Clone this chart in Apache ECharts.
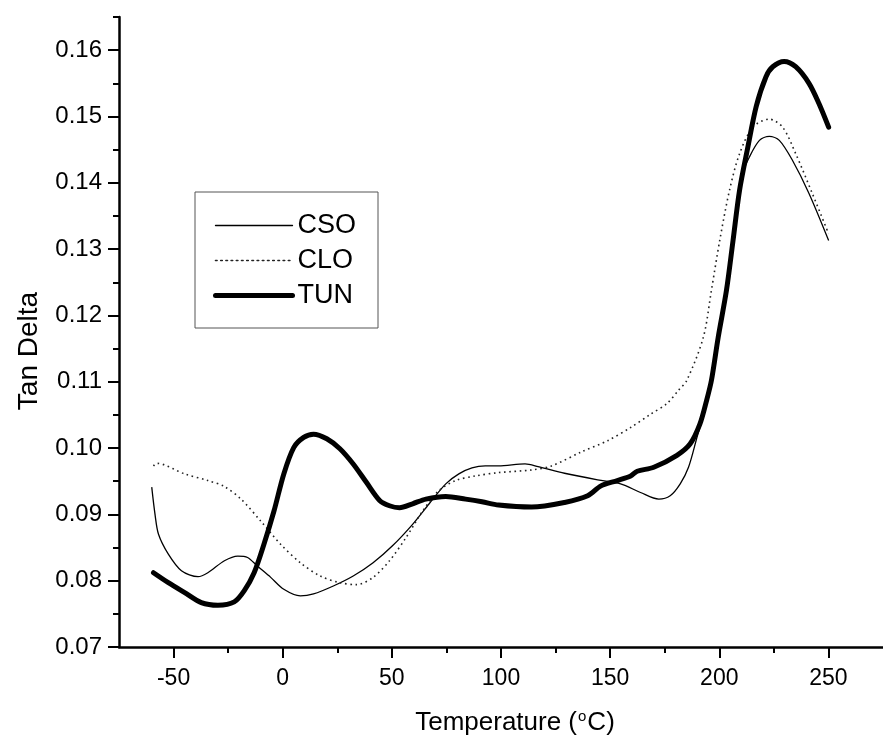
<!DOCTYPE html>
<html>
<head>
<meta charset="utf-8">
<script src="https://cdn.jsdelivr.net/npm/echarts@6/dist/echarts.min.js"></script>
<style>html,body{margin:0;padding:0;background:#fff}#c{width:883px;height:744px}</style>
</head>
<body>
<div id="c"></div>
<script>
const xMajorTicks = [-50, 0, 50, 100, 150, 200, 250];
const xMinorTicks = [-25, 25, 75, 125, 175, 225];
const yMajorTicks = [0.07, 0.08, 0.09, 0.10, 0.11, 0.12, 0.13, 0.14, 0.15, 0.16];
const yMinorTicks = [0.075, 0.085, 0.095, 0.105, 0.115, 0.125, 0.135, 0.145, 0.155, 0.165];

const csoT = [-60.0, -58.5, -56.9, -52.4, -46.4, -38.8, -34.3, -26.7, -20.6, -16.1, -11.6, -5.5, 0.5, 8.1, 14.1, 23.2, 32.3, 41.4, 50.4, 59.5, 67.1, 74.7, 80.7, 86.7, 92.8, 98.9, 111.0, 117.0, 129.1, 144.3, 154.8, 163.9, 172.3, 177.5, 182.1, 185.9, 189.6, 194.2, 199.5, 203.3, 206.3, 210.8, 213.8, 218.4, 222.9, 227.5, 233.5, 241.1, 250.1];
const csoV = [0.0941, 0.0900, 0.0870, 0.0840, 0.0815, 0.0806, 0.0812, 0.0830, 0.0837, 0.0835, 0.0822, 0.0805, 0.0787, 0.0777, 0.0780, 0.0792, 0.0807, 0.0827, 0.0853, 0.0885, 0.0916, 0.0946, 0.0961, 0.0970, 0.0973, 0.0973, 0.0976, 0.0972, 0.0962, 0.0952, 0.0946, 0.0933, 0.0923, 0.0928, 0.0946, 0.0971, 0.1014, 0.1070, 0.1160, 0.1235, 0.1305, 0.1414, 0.1439, 0.1464, 0.1470, 0.1464, 0.1434, 0.1384, 0.1313];

const cloT = [-59.2, -57.7, -44.9, -34.3, -26.7, -19.1, -10.1, -1.0, 8.1, 17.2, 26.2, 33.8, 41.4, 48.9, 56.5, 64.1, 71.6, 79.2, 88.3, 98.9, 114.0, 123.1, 136.7, 148.8, 159.4, 168.5, 176.0, 181.3, 185.1, 192.7, 196.4, 200.2, 204.7, 209.3, 215.4, 222.9, 229.0, 235.0, 242.6, 250.1];
const cloV = [0.0973, 0.0977, 0.0961, 0.0951, 0.0942, 0.0923, 0.0890, 0.0855, 0.0827, 0.0807, 0.0797, 0.0794, 0.0805, 0.0830, 0.0865, 0.0905, 0.0936, 0.0951, 0.0958, 0.0963, 0.0967, 0.0973, 0.0994, 0.1011, 0.1031, 0.1051, 0.1067, 0.1087, 0.1102, 0.1167, 0.1238, 0.1313, 0.1389, 0.1444, 0.1484, 0.1496, 0.1484, 0.1444, 0.1384, 0.1323];

const tunT = [-59.2, -52.4, -44.9, -37.3, -29.7, -22.2, -17.6, -13.1, -8.6, -4.0, 0.5, 5.1, 9.6, 14.1, 20.2, 26.2, 32.3, 38.4, 44.4, 48.9, 53.5, 59.5, 65.6, 74.7, 83.8, 91.3, 98.9, 114.0, 129.1, 139.7, 145.8, 153.3, 159.4, 162.4, 170.0, 180.6, 186.6, 191.1, 194.2, 196.4, 199.5, 203.3, 206.3, 209.3, 213.1, 216.9, 221.4, 224.5, 229.7, 235.0, 241.1, 245.6, 250.1];
const tunV = [0.0812, 0.0797, 0.0782, 0.0767, 0.0763, 0.0768, 0.0785, 0.0812, 0.0855, 0.0905, 0.0961, 0.1001, 0.1016, 0.1021, 0.1014, 0.0999, 0.0976, 0.0948, 0.0921, 0.0913, 0.0910, 0.0916, 0.0923, 0.0927, 0.0923, 0.0919, 0.0914, 0.0911, 0.0918, 0.0928, 0.0943, 0.0951, 0.0958, 0.0965, 0.0971, 0.0989, 0.1006, 0.1036, 0.1072, 0.1102, 0.1167, 0.1238, 0.1313, 0.1389, 0.1454, 0.1515, 0.1560, 0.1575, 0.1583, 0.1575, 0.1550, 0.1520, 0.1484];

const zip = (a, b) => a.map((v, i) => [v, b[i]]);
const FONT = 'Liberation Sans';

const chart = echarts.init(document.getElementById('c'), null, {renderer: 'canvas'});
chart.setOption({
  animation: false,
  backgroundColor: '#fff',
  grid: {left: 119, right: -5, top: 17, bottom: 97, containLabel: false},
  legend: {
    orient: 'vertical',
    left: 195, top: 192,
    padding: [20, 22, 19, 18],
    itemGap: 8,
    itemWidth: 77, itemHeight: 2,
    borderColor: '#555', borderWidth: 1,
    itemStyle: {opacity: 0},
    lineStyle: {width: 'inherit', type: 'inherit', cap: 'round'},
    textStyle: {fontFamily: FONT, fontSize: 27, color: '#000', lineHeight: 27},
    data: ['CSO', 'CLO', 'TUN']
  },
  xAxis: [{
    type: 'value', min: -75, max: 275, interval: 25,
    name: 'Temperature ({sup|o}C)',
    nameLocation: 'middle', nameGap: 62,
    nameTextStyle: {fontFamily: FONT, fontSize: 26, color: '#000', padding: [0, 0, 0, 28],
      rich: {sup: {fontFamily: FONT, fontSize: 15, color: '#000', verticalAlign: 'top', padding: [0, 1, 12, 1]}}},
    splitLine: {show: false},
    axisLine: {show: true, onZero: false, lineStyle: {color: '#000', width: 2.5}},
    axisTick: {show: true, inside: false, length: 11, customValues: xMajorTicks, lineStyle: {color: '#000', width: 2}},
    axisLabel: {show: true, margin: 20, customValues: xMajorTicks, fontFamily: FONT, fontSize: 23, color: '#000'}
  }, {
    type: 'value', min: -75, max: 275, interval: 25,
    position: 'bottom',
    splitLine: {show: false},
    axisLine: {show: false, onZero: false},
    axisTick: {show: true, inside: false, length: 6, customValues: xMinorTicks, lineStyle: {color: '#000', width: 2}},
    axisLabel: {show: false}
  }],
  yAxis: [{
    type: 'value', min: 0.07, max: 0.165, interval: 0.01,
    name: 'Tan Delta',
    nameLocation: 'middle', nameGap: 76, nameRotate: 90,
    nameTextStyle: {fontFamily: FONT, fontSize: 28, color: '#000', padding: [0, 38, 0, 0]},
    splitLine: {show: false},
    axisLine: {show: true, onZero: false, lineStyle: {color: '#000', width: 2.5}},
    axisTick: {show: true, inside: false, length: 11, customValues: yMajorTicks, lineStyle: {color: '#000', width: 2}},
    axisLabel: {show: true, margin: 17, customValues: yMajorTicks, fontFamily: FONT, fontSize: 24, color: '#000',
      formatter: v => v.toFixed(2)}
  }, {
    type: 'value', min: 0.07, max: 0.165, interval: 0.01,
    position: 'left',
    splitLine: {show: false},
    axisLine: {show: false, onZero: false},
    axisTick: {show: true, inside: false, length: 6, customValues: yMinorTicks, lineStyle: {color: '#000', width: 2}},
    axisLabel: {show: false}
  }],
  series: [{
    name: 'CSO', type: 'line', smooth: 0.3, symbol: 'none',
    data: zip(csoT, csoV),
    lineStyle: {color: '#000', width: 1.3},
    itemStyle: {color: '#000'}
  }, {
    name: 'CLO', type: 'line', smooth: 0.3, symbol: 'none',
    data: zip(cloT, cloV),
    lineStyle: {color: '#222', width: 1.6, type: [1.6, 3.6]},
    itemStyle: {color: '#222'}
  }, {
    name: 'TUN', type: 'line', smooth: 0.3, symbol: 'none',
    data: zip(tunT, tunV),
    lineStyle: {color: '#000', width: 5, cap: 'round', join: 'round'},
    itemStyle: {color: '#000'}
  }]
});
</script>
</body>
</html>
